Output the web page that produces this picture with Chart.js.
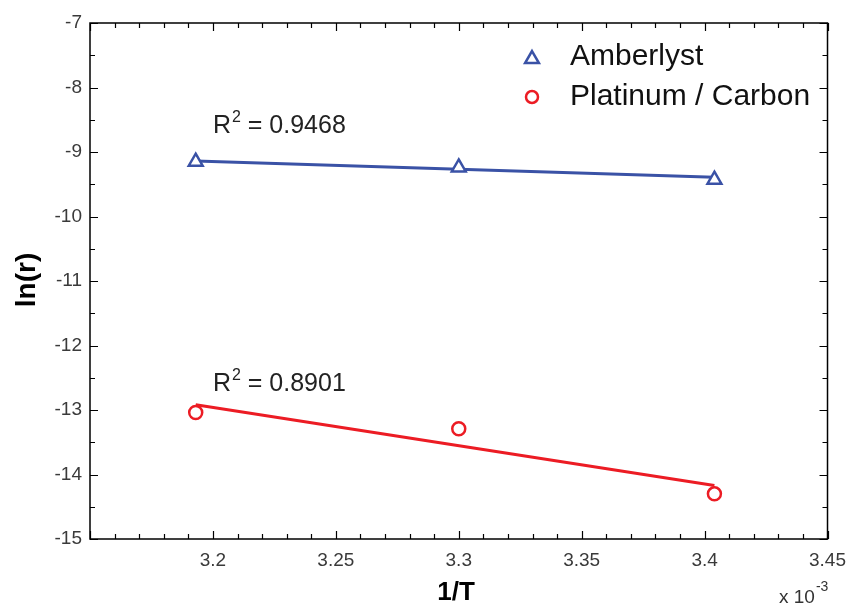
<!DOCTYPE html>
<html>
<head>
<meta charset="UTF-8">
<title>ln(r) vs 1/T</title>
<script src="https://cdn.jsdelivr.net/npm/chart.js"></script>
<style>
  body { margin: 0; background: #fff; }
</style>
</head>
<body>
<canvas id="arrhenius" width="856" height="607"></canvas>
<script>
// 1/T in units of 10^-3, ln(r) on the y axis
const invT = [3.193, 3.300, 3.404];
const amberlyst = [-9.15, -9.24, -9.43];
const platinum = [-13.04, -13.29, -14.30];

// fitted straight lines at their two ends
const fitX = [3.193, 3.404];
const amberlystFit = [-9.14, -9.39];
const platinumFit = [-12.92, -14.17];

const seriesNames = ['Amberlyst', 'Platinum / Carbon'];
const r2Values = ['0.9468', '0.8901'];
const r2X = [3.2, 3.2];
const r2Y = [-8.7, -12.7];

const xTicks = [3.2, 3.25, 3.3, 3.35, 3.4, 3.45];
const yTicks = [-15, -14, -13, -12, -11, -10, -9, -8, -7];

const FONT = '"Liberation Sans", Arial, sans-serif';
const BLUE = '#3a52a6';
const RED = '#ec1c24';

function drawMarker(ctx, style, x, y, r, color) {
    ctx.save();
    ctx.strokeStyle = color;
    ctx.fillStyle = '#fff';
    ctx.lineWidth = 2.5;
    ctx.beginPath();
    if (style === 'triangle') {
        let a = 0;
        ctx.moveTo(x + Math.sin(a) * r, y - Math.cos(a) * r);
        a += 2 * Math.PI / 3;
        ctx.lineTo(x + Math.sin(a) * r, y - Math.cos(a) * r);
        a += 2 * Math.PI / 3;
        ctx.lineTo(x + Math.sin(a) * r, y - Math.cos(a) * r);
        ctx.closePath();
    } else {
        ctx.arc(x, y, r, 0, Math.PI * 2);
    }
    ctx.fill();
    ctx.stroke();
    ctx.restore();
}

const framePlugin = {
    id: 'frame',
    afterDraw(chart) {
        const ctx = chart.ctx;
        const a = chart.chartArea;
        const xs = chart.scales.x, ys = chart.scales.y;
        ctx.save();

        // box
        ctx.strokeStyle = '#000';
        ctx.lineWidth = 1.5;
        ctx.strokeRect(a.left, a.top, a.right - a.left, a.bottom - a.top);

        // inward ticks, major and minor, on all four sides
        ctx.lineWidth = 1.2;
        ctx.beginPath();
        for (let i = 0; i <= 30; i++) {
            const v = 3.15 + i * 0.01;
            const px = Math.round(xs.getPixelForValue(v)) + 0.5;
            const len = (i % 5 === 0) ? 8 : 5;
            ctx.moveTo(px, a.bottom); ctx.lineTo(px, a.bottom - len);
            ctx.moveTo(px, a.top); ctx.lineTo(px, a.top + len);
        }
        for (let i = 0; i <= 16; i++) {
            const v = -15 + i * 0.5;
            const py = Math.round(ys.getPixelForValue(v)) + 0.5;
            const len = (i % 2 === 0) ? 8 : 5;
            ctx.moveTo(a.left, py); ctx.lineTo(a.left + len, py);
            ctx.moveTo(a.right, py); ctx.lineTo(a.right - len, py);
        }
        ctx.stroke();

        // R^2 annotations
        ctx.fillStyle = '#222';
        ctx.textBaseline = 'alphabetic';
        ctx.textAlign = 'left';
        for (let i = 0; i < r2Values.length; i++) {
            let x = xs.getPixelForValue(r2X[i]);
            const y = ys.getPixelForValue(r2Y[i]);
            ctx.font = '25px ' + FONT;
            ctx.fillText('R', x, y);
            x += ctx.measureText('R').width + 1;
            ctx.font = '16px ' + FONT;
            ctx.fillText('2', x, y - 11);
            x += ctx.measureText('2').width;
            ctx.font = '25px ' + FONT;
            ctx.fillText(' = ' + r2Values[i], x, y);
        }

        // legend
        const legendStyles = ['triangle', 'circle'];
        const legendColors = [BLUE, RED];
        const legendSizes = [8, 6];
        ctx.font = '30px ' + FONT;
        ctx.textBaseline = 'middle';
        for (let i = 0; i < seriesNames.length; i++) {
            const y = 57 + i * 40;
            drawMarker(ctx, legendStyles[i], 532, y + (i === 0 ? 2 : 0), legendSizes[i], legendColors[i]);
            ctx.fillStyle = '#111';
            ctx.fillText(seriesNames[i], 570, y);
        }

        // axis titles
        ctx.fillStyle = '#000';
        ctx.textBaseline = 'alphabetic';
        ctx.textAlign = 'center';
        ctx.font = 'bold 26px ' + FONT;
        ctx.fillText('1/T', 456, 600);
        ctx.save();
        ctx.translate(35, 280);
        ctx.rotate(-Math.PI / 2);
        ctx.font = 'bold 28px ' + FONT;
        ctx.fillText('ln(r)', 0, 0);
        ctx.restore();

        // multiplier
        ctx.textAlign = 'left';
        ctx.fillStyle = '#333';
        ctx.font = '19px ' + FONT;
        ctx.fillText('x 10', 779, 603);
        const w = ctx.measureText('x 10').width;
        ctx.font = '14px ' + FONT;
        ctx.fillText('-3', 779 + w + 1, 591);

        ctx.restore();
    }
};

const ctx = document.getElementById('arrhenius').getContext('2d');
new Chart(ctx, {
    type: 'scatter',
    data: {
        datasets: [
            {
                label: seriesNames[0],
                data: invT.map((x, i) => ({ x: x, y: amberlyst[i] })),
                pointStyle: 'triangle',
                pointRadius: 8,
                pointBorderWidth: 2.5,
                borderColor: BLUE,
                backgroundColor: '#fff',
                showLine: false
            },
            {
                label: seriesNames[1],
                data: invT.map((x, i) => ({ x: x, y: platinum[i] })),
                pointStyle: 'circle',
                pointRadius: 6.5,
                pointBorderWidth: 2.5,
                borderColor: RED,
                backgroundColor: '#fff',
                showLine: false
            },
            {
                type: 'line',
                label: 'Amberlyst fit',
                data: fitX.map((x, i) => ({ x: x, y: amberlystFit[i] })),
                borderColor: BLUE,
                borderWidth: 3,
                pointRadius: 0,
                fill: false
            },
            {
                type: 'line',
                label: 'Platinum fit',
                data: fitX.map((x, i) => ({ x: x, y: platinumFit[i] })),
                borderColor: RED,
                borderWidth: 3,
                pointRadius: 0,
                fill: false
            }
        ]
    },
    options: {
        responsive: false,
        animation: false,
        devicePixelRatio: 1,
        layout: { padding: { top: 23, right: 23, left: 0, bottom: 0 } },
        plugins: {
            legend: { display: false },
            tooltip: { enabled: false }
        },
        scales: {
            x: {
                type: 'linear',
                min: 3.15,
                max: 3.45,
                afterBuildTicks: s => { s.ticks = xTicks.map(v => ({ value: v })); },
                afterFit: s => { s.height = 68; },
                grid: { display: false, drawTicks: false },
                border: { display: false },
                ticks: {
                    autoSkip: false,
                    maxRotation: 0,
                    padding: 10,
                    color: '#3a3a3a',
                    font: { family: FONT, size: 19 },
                    callback: v => String(v)
                }
            },
            y: {
                type: 'linear',
                min: -15,
                max: -7,
                afterBuildTicks: s => { s.ticks = yTicks.map(v => ({ value: v })); },
                afterFit: s => { s.width = 90; },
                grid: { display: false, drawTicks: false },
                border: { display: false },
                ticks: {
                    autoSkip: false,
                    padding: 8,
                    color: '#3a3a3a',
                    font: { family: FONT, size: 19 },
                    callback: v => String(v)
                }
            }
        }
    },
    plugins: [framePlugin]
});
</script>
</body>
</html>
